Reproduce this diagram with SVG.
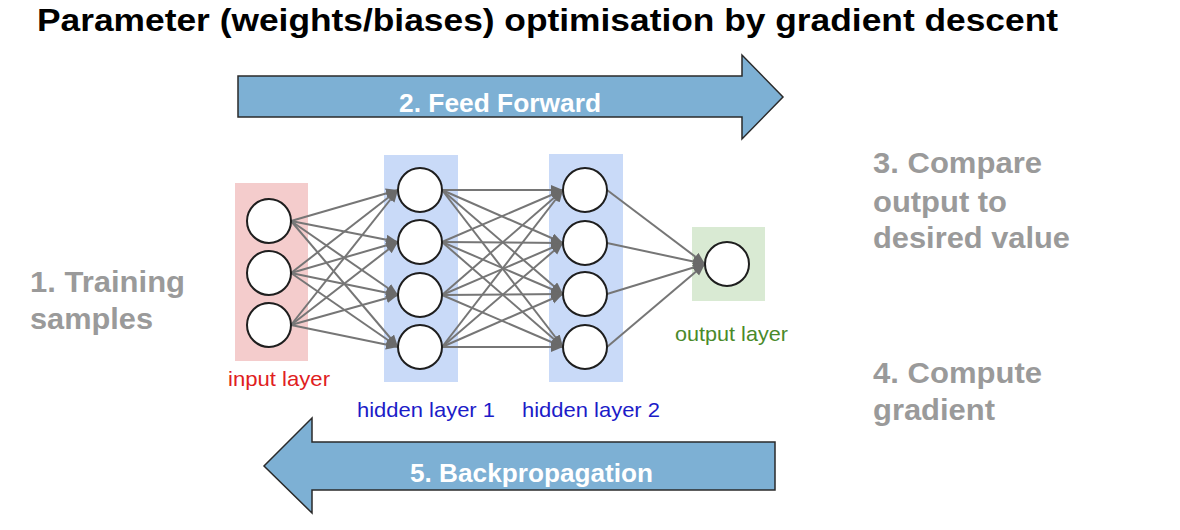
<svg xmlns="http://www.w3.org/2000/svg" width="1180" height="530" viewBox="0 0 1180 530">
  <style>
    .title { font-family: "Liberation Sans", Arial, sans-serif; font-weight: bold; font-size: 31px; fill: #000; }
    .step { font-family: "Liberation Sans", Arial, sans-serif; font-weight: bold; font-size: 29px; fill: #9a9a9a; }
    .arrowtxt { font-family: "Liberation Sans", Arial, sans-serif; font-weight: bold; font-size: 26px; fill: #ffffff; }
    .lbl { font-family: "Liberation Sans", Arial, sans-serif; font-size: 21px; }
    .bigarrow { fill: #7db0d4; stroke: #2a2a2a; stroke-width: 1.5; stroke-linejoin: miter; }
    .neuron { fill: #ffffff; stroke: #1e1e1e; stroke-width: 2; }
    .edge { stroke: #767676; stroke-width: 2; fill: none; marker-end: url(#ah); }
  </style>
  <defs>
    <marker id="ah" markerUnits="userSpaceOnUse" markerWidth="13" markerHeight="11" refX="12" refY="5" orient="auto">
      <path d="M0,0 L12,5 L0,10 z" fill="#6a6a6a"/>
    </marker>
  </defs>
  <rect width="1180" height="530" fill="#ffffff"/>

  <text class="title" x="37" y="31" textLength="1021" lengthAdjust="spacingAndGlyphs">Parameter (weights/biases) optimisation by gradient descent</text>

  <g id="feed-forward">
    <polygon class="bigarrow" points="238,76 742,76 742,55 783,97 742,139 742,117 238,117"/>
    <text class="arrowtxt" x="500" y="112" text-anchor="middle" textLength="202" lengthAdjust="spacingAndGlyphs">2. Feed Forward</text>
  </g>

  <g id="backpropagation">
    <polygon class="bigarrow" points="775,442 312,442 312,418 264,466 312,513 312,490 775,490"/>
    <text class="arrowtxt" x="531.5" y="482" text-anchor="middle" textLength="243" lengthAdjust="spacingAndGlyphs">5. Backpropagation</text>
  </g>

  <g id="step1">
    <text class="step" x="30" y="292" textLength="155" lengthAdjust="spacingAndGlyphs">1. Training</text>
    <text class="step" x="30" y="329" textLength="123" lengthAdjust="spacingAndGlyphs">samples</text>
  </g>
  <g id="step3">
    <text class="step" x="873" y="173" textLength="169" lengthAdjust="spacingAndGlyphs">3. Compare</text>
    <text class="step" x="873" y="212" textLength="134" lengthAdjust="spacingAndGlyphs">output to</text>
    <text class="step" x="873" y="248" textLength="197" lengthAdjust="spacingAndGlyphs">desired value</text>
  </g>
  <g id="step4">
    <text class="step" x="873" y="383" textLength="169" lengthAdjust="spacingAndGlyphs">4. Compute</text>
    <text class="step" x="873" y="420" textLength="122" lengthAdjust="spacingAndGlyphs">gradient</text>
  </g>

  <g id="input-layer">
    <rect x="235" y="183" width="73" height="178" fill="#f4cccc"/>
    <text class="lbl" x="228" y="386" fill="#e0201e" textLength="102" lengthAdjust="spacingAndGlyphs">input layer</text>
  </g>
  <g id="hidden-layer-1">
    <rect x="384" y="155" width="74" height="227" fill="#c9daf8"/>
    <text class="lbl" x="357" y="417" fill="#1c1cc8" textLength="138" lengthAdjust="spacingAndGlyphs">hidden layer 1</text>
  </g>
  <g id="hidden-layer-2">
    <rect x="549" y="154" width="74" height="228" fill="#c9daf8"/>
    <text class="lbl" x="522" y="417" fill="#1c1cc8" textLength="138" lengthAdjust="spacingAndGlyphs">hidden layer 2</text>
  </g>
  <g id="output-layer">
    <rect x="692" y="227" width="73" height="74" fill="#d9ead3"/>
    <text class="lbl" x="675" y="341" fill="#4a8a2a" textLength="113" lengthAdjust="spacingAndGlyphs">output layer</text>
  </g>

  <g id="connectors">
    <line class="edge" x1="291" y1="221" x2="398" y2="190"/>
    <line class="edge" x1="291" y1="221" x2="398" y2="242"/>
    <line class="edge" x1="291" y1="221" x2="398" y2="295"/>
    <line class="edge" x1="291" y1="221" x2="398" y2="347"/>
    <line class="edge" x1="291" y1="273" x2="398" y2="190"/>
    <line class="edge" x1="291" y1="273" x2="398" y2="242"/>
    <line class="edge" x1="291" y1="273" x2="398" y2="295"/>
    <line class="edge" x1="291" y1="273" x2="398" y2="347"/>
    <line class="edge" x1="291" y1="325" x2="398" y2="190"/>
    <line class="edge" x1="291" y1="325" x2="398" y2="242"/>
    <line class="edge" x1="291" y1="325" x2="398" y2="295"/>
    <line class="edge" x1="291" y1="325" x2="398" y2="347"/>

    <line class="edge" x1="442" y1="190" x2="563" y2="190"/>
    <line class="edge" x1="442" y1="190" x2="563" y2="243"/>
    <line class="edge" x1="442" y1="190" x2="563" y2="294"/>
    <line class="edge" x1="442" y1="190" x2="563" y2="347"/>
    <line class="edge" x1="442" y1="242" x2="563" y2="190"/>
    <line class="edge" x1="442" y1="242" x2="563" y2="243"/>
    <line class="edge" x1="442" y1="242" x2="563" y2="294"/>
    <line class="edge" x1="442" y1="242" x2="563" y2="347"/>
    <line class="edge" x1="442" y1="295" x2="563" y2="190"/>
    <line class="edge" x1="442" y1="295" x2="563" y2="243"/>
    <line class="edge" x1="442" y1="295" x2="563" y2="294"/>
    <line class="edge" x1="442" y1="295" x2="563" y2="347"/>
    <line class="edge" x1="442" y1="347" x2="563" y2="190"/>
    <line class="edge" x1="442" y1="347" x2="563" y2="243"/>
    <line class="edge" x1="442" y1="347" x2="563" y2="294"/>
    <line class="edge" x1="442" y1="347" x2="563" y2="347"/>

    <line class="edge" x1="607" y1="190" x2="705" y2="264"/>
    <line class="edge" x1="607" y1="243" x2="705" y2="264"/>
    <line class="edge" x1="607" y1="294" x2="705" y2="264"/>
    <line class="edge" x1="607" y1="347" x2="705" y2="264"/>
  </g>

  <g id="input-neurons">
    <circle class="neuron" cx="269" cy="221" r="22"/>
    <circle class="neuron" cx="269" cy="273" r="22"/>
    <circle class="neuron" cx="269" cy="325" r="22"/>
  </g>
  <g id="hidden1-neurons">
    <circle class="neuron" cx="420" cy="190" r="22"/>
    <circle class="neuron" cx="420" cy="242" r="22"/>
    <circle class="neuron" cx="420" cy="295" r="22"/>
    <circle class="neuron" cx="420" cy="347" r="22"/>
  </g>
  <g id="hidden2-neurons">
    <circle class="neuron" cx="585" cy="190" r="22"/>
    <circle class="neuron" cx="585" cy="243" r="22"/>
    <circle class="neuron" cx="585" cy="294" r="22"/>
    <circle class="neuron" cx="585" cy="347" r="22"/>
  </g>
  <g id="output-neuron">
    <circle class="neuron" cx="727" cy="264" r="22"/>
  </g>
</svg>
